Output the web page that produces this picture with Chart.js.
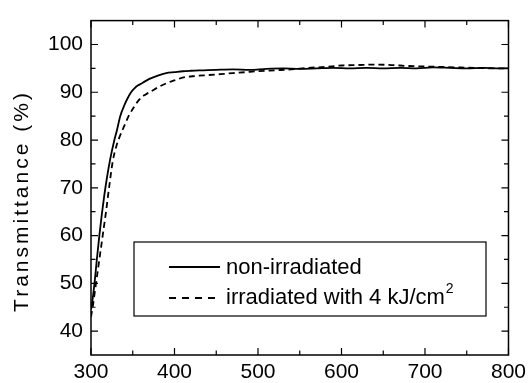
<!DOCTYPE html>
<html>
<head>
<meta charset="utf-8">
<script src="https://cdn.jsdelivr.net/npm/chart.js@4.4.1/dist/chart.umd.min.js"></script>
<style>
    html, body {margin: 0; padding: 0; background: #fff;}
</style>
</head>
<body>
<canvas id="myChart" width="531" height="383"></canvas>
<script>
    // wavelength (nm) / transmittance (%)
    const solidX = [300, 301, 302.5, 304.5, 307, 310, 313, 316, 319, 323,
        328, 331, 335, 340, 344, 348, 352, 356, 358, 362,
        370, 380, 390, 400, 410, 420, 435, 450, 470, 490,
        510, 530, 550, 570, 590, 610, 630, 650, 670, 690,
        710, 730, 750, 770, 790, 800];
    const solidY = [44.5, 45.5, 47.5, 50.5, 55, 60, 64.5, 68.5, 72, 76,
        80, 82, 85, 87.3, 88.8, 90, 90.8, 91.4, 91.6, 92,
        92.8, 93.5, 94, 94.2, 94.4, 94.5, 94.6, 94.7, 94.8, 94.7,
        94.9, 95.0, 94.9, 95.0, 95.1, 95.0, 95.1, 95.0, 95.1, 95.0,
        95.2, 95.1, 95.0, 95.1, 95.0, 95.0];

    const dashX = [300, 302, 304, 306, 310, 314, 318, 322, 326, 330,
        335, 340, 345, 350, 358, 365, 372, 382, 392, 400,
        411, 425, 440, 455, 470, 485, 500, 520, 540, 560,
        580, 600, 620, 640, 660, 680, 700, 720, 740, 760,
        780, 800];
    const dashY = [43, 45, 47.5, 50, 55, 60, 65, 70.5, 75.5, 78.5,
        81, 83, 85, 86.5, 88.5, 89.5, 90.2, 91.2, 92, 92.5,
        93.1, 93.4, 93.6, 93.8, 94.0, 94.2, 94.4, 94.6, 94.8, 95.1,
        95.3, 95.6, 95.7, 95.8, 95.7, 95.5, 95.4, 95.3, 95.2, 95.1,
        95.0, 95.0];

    const xTickLabels = [300, 400, 500, 600, 700, 800];
    const xMinorTicks = [350, 450, 550, 650, 750];
    const yTickLabels = [40, 50, 60, 70, 80, 90, 100];
    const yMinorTicks = [45, 55, 65, 75, 85, 95];

    const seriesNames = ['non-irradiated', 'irradiated with 4 kJ/cm'];
    const yTitle = 'Transmittance (%)';

    const fontFamily = '"Liberation Sans", Arial, Helvetica, sans-serif';

    const toPoints = (xs, ys) => xs.map((x, i) => ({x: x, y: ys[i]}));

    // box + inward ticks on all four sides
    const frameTicks = {
        id: 'frameTicks',
        afterDatasetsDraw(chart) {
            const {ctx, chartArea: a, scales: {x, y}} = chart;
            ctx.save();
            ctx.strokeStyle = '#000';
            ctx.lineWidth = 1.2;
            ctx.beginPath();
            const xt = (v, len) => {
                const px = x.getPixelForValue(v);
                ctx.moveTo(px, a.bottom); ctx.lineTo(px, a.bottom - len);
                ctx.moveTo(px, a.top); ctx.lineTo(px, a.top + len);
            };
            const yt = (v, len) => {
                const py = y.getPixelForValue(v);
                ctx.moveTo(a.left, py); ctx.lineTo(a.left + len, py);
                ctx.moveTo(a.right, py); ctx.lineTo(a.right - len, py);
            };
            xTickLabels.forEach(v => xt(v, 7));
            xMinorTicks.forEach(v => xt(v, 4.5));
            yTickLabels.forEach(v => yt(v, 7));
            yMinorTicks.forEach(v => yt(v, 4.5));
            ctx.stroke();
            ctx.lineWidth = 1.5;
            ctx.strokeRect(a.left, a.top, a.right - a.left, a.bottom - a.top);
            ctx.restore();
        },
        afterDraw(chart) {
            const ctx = chart.ctx;
            ctx.save();
            // y axis title, a bit spaced out like the original
            ctx.translate(28, 201);
            ctx.rotate(-Math.PI / 2);
            ctx.font = '21px ' + fontFamily;
            ctx.letterSpacing = '3px';
            ctx.fillStyle = '#000';
            ctx.textAlign = 'center';
            ctx.textBaseline = 'alphabetic';
            ctx.fillText(yTitle, 0, 0);
            ctx.restore();

            // legend box
            ctx.save();
            ctx.strokeStyle = '#000';
            ctx.lineWidth = 1.2;
            ctx.strokeRect(134, 242, 352, 74);
            ctx.lineWidth = 1.8;
            ctx.beginPath();
            ctx.moveTo(169, 267); ctx.lineTo(220, 267);
            ctx.stroke();
            ctx.setLineDash([7, 6]);
            ctx.beginPath();
            ctx.moveTo(169, 298); ctx.lineTo(221, 298);
            ctx.stroke();
            ctx.setLineDash([]);
            ctx.fillStyle = '#000';
            ctx.font = '22px ' + fontFamily;
            ctx.textBaseline = 'alphabetic';
            ctx.fillText(seriesNames[0], 226, 273.5);
            ctx.fillText(seriesNames[1], 226, 304);
            const w = ctx.measureText(seriesNames[1]).width;
            ctx.font = '14px ' + fontFamily;
            ctx.fillText('2', 226 + w + 1, 293);
            ctx.restore();
        }
    };

    const ctx = document.getElementById('myChart');

    new Chart(ctx, {
        type: 'line',
        data: {
            datasets: [{
                label: seriesNames[0],
                data: toPoints(solidX, solidY),
                borderColor: '#000',
                borderWidth: 1.8,
                pointRadius: 0,
                cubicInterpolationMode: 'monotone',
                fill: false
            }, {
                label: seriesNames[1],
                data: toPoints(dashX, dashY),
                borderColor: '#000',
                borderWidth: 1.8,
                borderDash: [6, 4],
                pointRadius: 0,
                cubicInterpolationMode: 'monotone',
                fill: false
            }]
        },
        options: {
            responsive: false,
            animation: false,
            layout: {padding: {left: 0, top: 13.5, right: 20, bottom: 0}},
            plugins: {
                legend: {display: false},
                tooltip: {enabled: false}
            },
            scales: {
                x: {
                    type: 'linear',
                    min: 300,
                    max: 800,
                    afterBuildTicks: s => { s.ticks = xTickLabels.map(v => ({value: v})); },
                    afterFit: s => { s.height = 28; },
                    grid: {display: false, drawTicks: false},
                    border: {display: false},
                    ticks: {color: '#000', padding: 5, maxRotation: 0, autoSkip: false,
                        font: {size: 21, family: fontFamily}}
                },
                y: {
                    type: 'linear',
                    min: 35,
                    max: 105,
                    afterBuildTicks: s => { s.ticks = yTickLabels.map(v => ({value: v})); },
                    afterFit: s => { s.width = 91; },
                    grid: {display: false, drawTicks: false},
                    border: {display: false},
                    ticks: {color: '#000', padding: 8, autoSkip: false,
                        font: {size: 21, family: fontFamily}}
                }
            }
        },
        plugins: [frameTicks]
    });
</script>
</body>
</html>
